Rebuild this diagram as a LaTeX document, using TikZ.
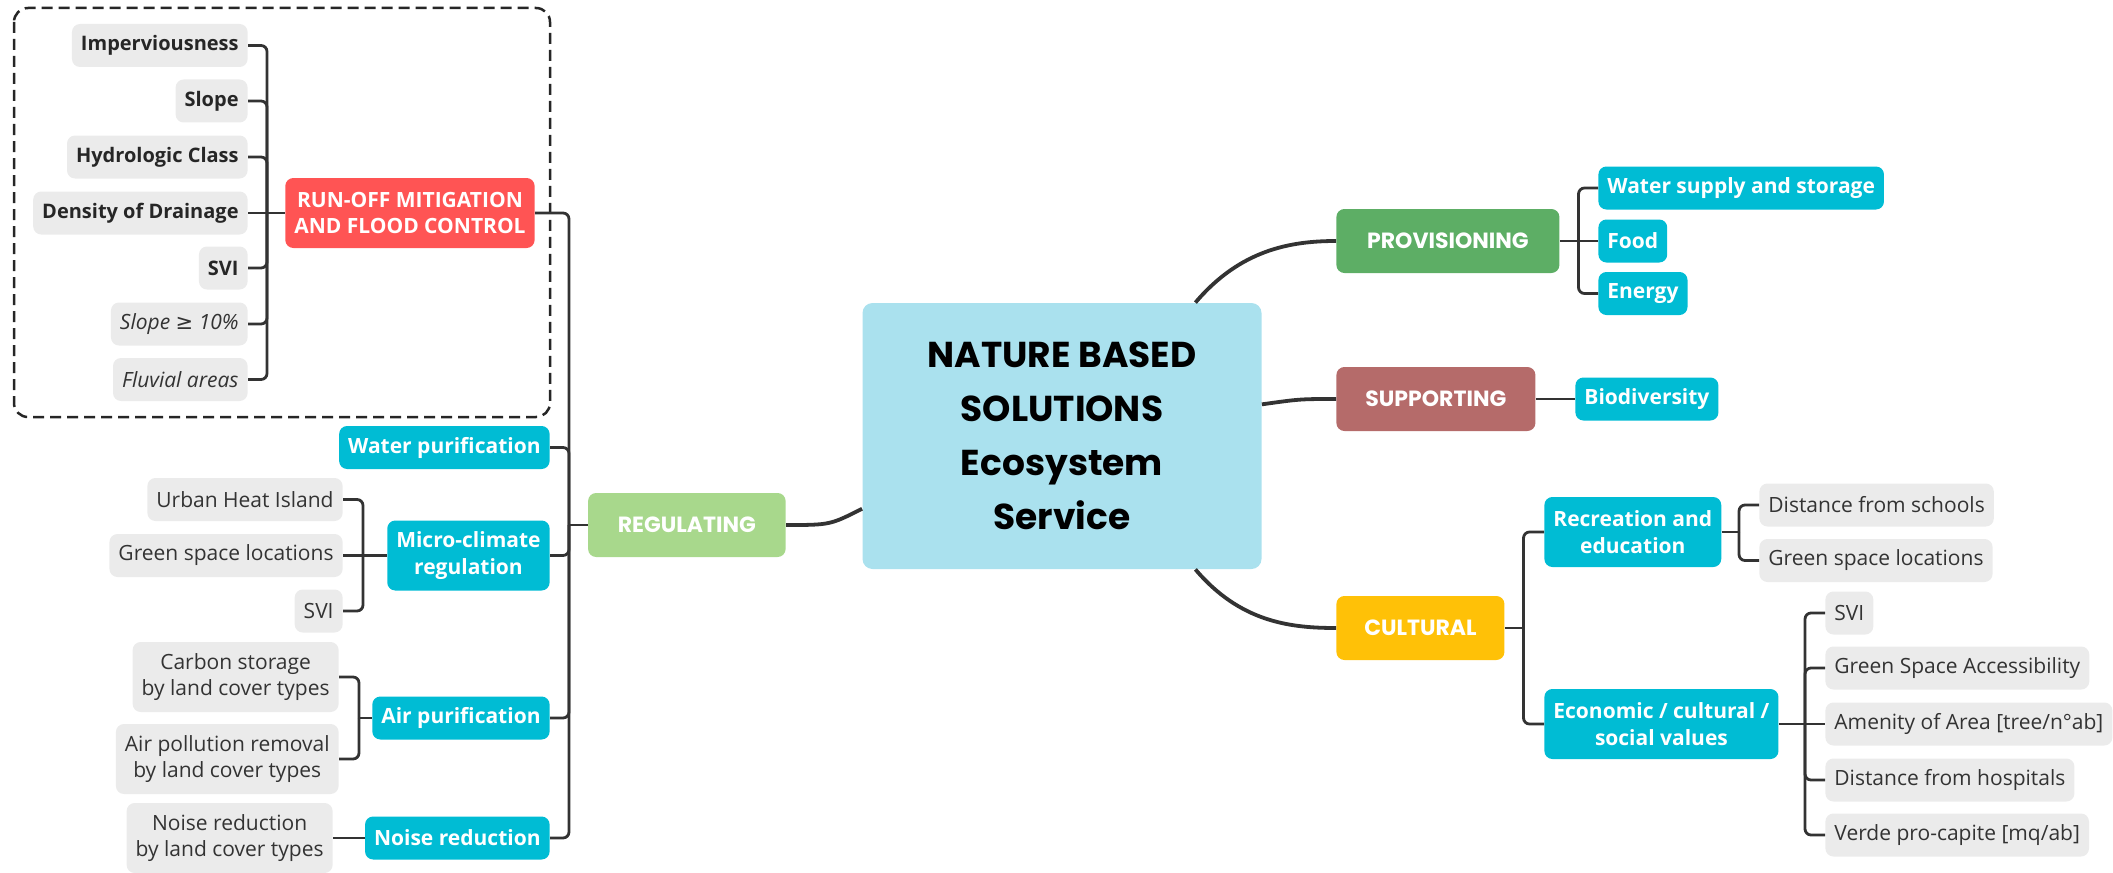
\documentclass[tikz,border=0pt]{standalone}
\usepackage{fontspec}
\setmainfont{Open Sans}
\newfontfamily\headfont{Poppins}
\newfontfamily\symfont{DejaVu Sans}

\definecolor{hubblue}{RGB}{170,225,238}
\definecolor{subblue}{RGB}{0,188,212}
\definecolor{leafgray}{RGB}{235,235,235}
\definecolor{leaftext}{RGB}{51,51,51}
\definecolor{runred}{RGB}{255,84,84}
\definecolor{reggreen}{RGB}{168,216,140}
\definecolor{provgreen}{RGB}{93,174,101}
\definecolor{suppbrown}{RGB}{181,107,106}
\definecolor{cultamber}{RGB}{255,193,7}
\definecolor{linkgray}{RGB}{51,51,51}

\tikzset{
  leaf/.style={rounded corners=4pt, fill=leafgray, text=leaftext, inner xsep=4.5pt, inner ysep=2pt,
    minimum height=21.5pt, align=center, font=\fontsize{10.5}{13.3}\selectfont},
  leafbold/.style={leaf, text=black!85, font=\bfseries\fontsize{10}{13.3}\selectfont},
  leafit/.style={leaf, font=\itshape\fontsize{10.5}{13.3}\selectfont},
  sub/.style={rounded corners=4pt, fill=subblue, text=white, inner xsep=4.5pt, inner ysep=2pt,
    minimum height=21.5pt, align=center, font=\bfseries\fontsize{10.5}{13.3}\selectfont},
  head/.style={rounded corners=4pt, text=white, minimum height=32pt, align=center,
    font=\headfont\bfseries\fontsize{11}{13}\selectfont},
  hub/.style={rounded corners=5pt, fill=hubblue, minimum width=199.5pt, minimum height=133pt,
    align=center, font=\headfont\bfseries\fontsize{18}{27}\selectfont},
  link/.style={draw=linkgray, line width=1.4pt, rounded corners=3pt},
  trunk/.style={draw=linkgray, line width=1.9pt},
  groupbox/.style={draw=black!85, line width=1.25pt, dash pattern=on 5.5pt off 3pt, rounded corners=7pt}
}

\begin{document}
\begin{tikzpicture}[x=0.5pt,y=0.5pt,yscale=-1,xscale=1]
\useasboundingbox (0,0) rectangle (2113,872);

% group frame
\draw[groupbox] (14,8) rectangle (550,417);

% central topic
\node[hub] (nbs) at (1062,436) {NATURE BASED\\SOLUTIONS\\Ecosystem\\Service};

% main branches
\node[head, fill=provgreen, minimum width=111.5pt, anchor=west] (prov) at (1336,241) {PROVISIONING};
\node[head, fill=suppbrown, minimum width=99.5pt, anchor=west] (supp) at (1336,399) {SUPPORTING};
\node[head, fill=cultamber, minimum width=84pt, anchor=west] (cult) at (1336,628) {CULTURAL};
\node[head, fill=reggreen, minimum width=98.75pt, anchor=east] (reg) at (786,525) {REGULATING};

% regulating
\node[sub, fill=runred, minimum width=124pt, minimum height=35pt, anchor=east] (runoff) at (535,213) {RUN-OFF MITIGATION\\AND FLOOD CONTROL};
\node[sub, anchor=east] (waterp) at (550,447.5) {Water purification};
\node[sub, minimum height=35pt, anchor=east] (micro) at (550,555.5) {Micro-climate\\regulation};
\node[sub, anchor=east] (airp) at (550,718) {Air purification};
\node[sub, anchor=east] (noise) at (550,838) {Noise reduction};

\node[leafbold, anchor=east] (imperv) at (248,45.5) {Imperviousness};
\node[leafbold, anchor=east] (slope) at (248,101) {Slope};
\node[leafbold, anchor=east] (hydro) at (248,157) {Hydrologic Class};
\node[leafbold, anchor=east] (drain) at (248,213) {Density of Drainage};
\node[leafbold, anchor=east] (svirun) at (248,268) {SVI};
\node[leafit, anchor=east] (steep) at (248,324) {Slope {\symfont\itshape ≥} 10\%};
\node[leafit, anchor=east] (fluvial) at (248,379.5) {Fluvial areas};

\node[leaf, anchor=east] (uhi) at (343,499.5) {Urban Heat Island};
\node[leaf, anchor=east] (greenloc) at (343,555.5) {Green space locations};
\node[leaf, anchor=east] (svimic) at (343,611) {SVI};

\node[leaf, minimum height=35pt, anchor=east] (carbon) at (339,677) {Carbon storage\\by land cover types};
\node[leaf, minimum height=35pt, anchor=east] (pollut) at (339,759) {Air pollution removal\\by land cover types};
\node[leaf, minimum height=35pt, anchor=east] (noiseland) at (333,838) {Noise reduction\\by land cover types};

% provisioning / supporting
\node[sub, anchor=west] (wsupply) at (1598,188) {Water supply and storage};
\node[sub, anchor=west] (food) at (1598,241) {Food};
\node[sub, anchor=west] (energy) at (1598,293.5) {Energy};
\node[sub, anchor=west] (biodiv) at (1575,399) {Biodiversity};

% cultural
\node[sub, minimum height=35pt, anchor=west] (recr) at (1544,532) {Recreation and\\education};
\node[sub, minimum height=35pt, anchor=west] (econ) at (1544,724) {Economic / cultural /\\social values};

\node[leaf, anchor=west] (school) at (1759,505) {Distance from schools};
\node[leaf, anchor=west] (greenrec) at (1759,560.5) {Green space locations};

\node[leaf, anchor=west] (svicul) at (1825,613) {SVI};
\node[leaf, anchor=west] (access) at (1825,668) {Green Space Accessibility};
\node[leaf, anchor=west] (amenity) at (1825,724) {Amenity of Area [tree/n°ab]};
\node[leaf, anchor=west] (hosp) at (1825,780) {Distance from hospitals};
\node[leaf, anchor=west] (verde) at (1825,835) {Verde pro-capite [mq/ab]};

% bracket points
\coordinate (runbr) at (267,213);
\coordinate (regbr) at (569,525);
\coordinate (micbr) at (363,555.5);
\coordinate (airbr) at (359,718);
\coordinate (provbr) at (1578.5,241);
\coordinate (cultbr) at (1523.5,628);
\coordinate (recbr) at (1739,532);
\coordinate (econbr) at (1805,724);

% curves from the central topic
\draw[trunk] (nbs.45) .. controls (1240,250) and (1290,241) .. (prov.west);
\draw[trunk] (nbs.9) .. controls (1300,399) .. (supp.west);
\draw[trunk] (nbs.-45) .. controls (1240,622) and (1290,628) .. (cult.west);
\draw[trunk] (nbs.200) .. controls (830,525) .. (reg.east);

% regulating brackets
\draw[link] (reg.west) -- (regbr);
\foreach \c in {runoff,waterp,micro,airp,noise}
  \draw[link] (regbr) |- (\c.east);
\draw[link] (runoff.west) -- (drain.east);
\foreach \c in {imperv,slope,hydro,svirun,steep,fluvial}
  \draw[link] (runbr) |- (\c.east);
\draw[link] (micro.west) -- (greenloc.east);
\draw[link] (micbr) |- (uhi.east);
\draw[link] (micbr) |- (svimic.east);
\draw[link] (airp.west) -- (airbr);
\draw[link] (airbr) |- (carbon.east);
\draw[link] (airbr) |- (pollut.east);
\draw[link] (noise.west) -- (noiseland.east);

% provisioning / supporting brackets
\draw[link] (prov.east) -- (food.west);
\draw[link] (provbr) |- (wsupply.west);
\draw[link] (provbr) |- (energy.west);
\draw[link] (supp.east) -- (biodiv.west);

% cultural brackets
\draw[link] (cult.east) -- (cultbr);
\draw[link] (cultbr) |- (recr.west);
\draw[link] (cultbr) |- (econ.west);
\draw[link] (recr.east) -- (recbr);
\draw[link] (recbr) |- (school.west);
\draw[link] (recbr) |- (greenrec.west);
\draw[link] (econ.east) -- (amenity.west);
\foreach \c in {svicul,access,hosp,verde}
  \draw[link] (econbr) |- (\c.west);

\end{tikzpicture}
\end{document}
